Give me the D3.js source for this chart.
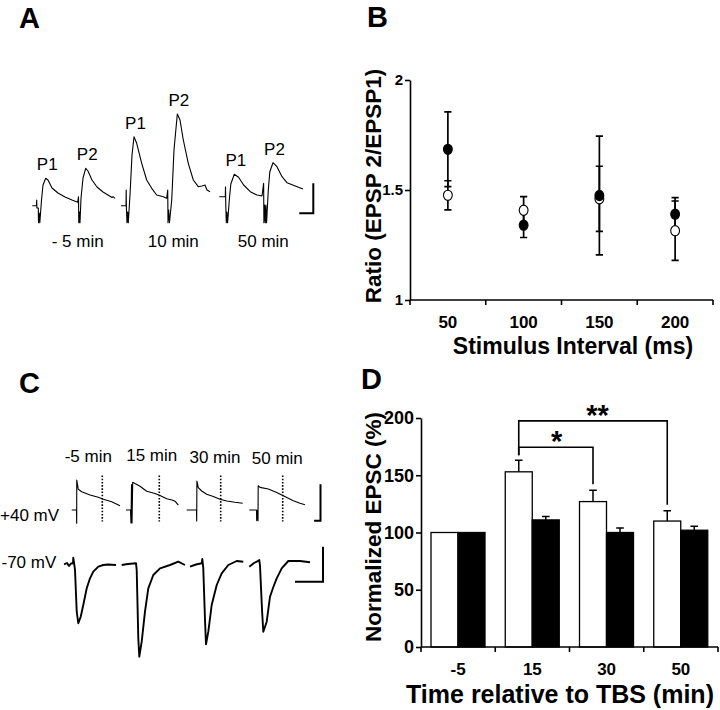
<!DOCTYPE html>
<html><head><meta charset="utf-8">
<script src="https://cdn.jsdelivr.net/npm/d3@7"></script>
<style>body{margin:0;background:#fff}</style>
</head><body>
<svg id="fig" width="720" height="710" xmlns="http://www.w3.org/2000/svg"></svg>
<script>
// ================= DATA =================
// Panel A : field EPSP sweeps, [time ms, mV] relative to sweep start / baseline
const aSweepLabels = ["- 5 min", "10 min", "50 min"];
const aTraceMinus5 = [[0,0],[5.25,0],[5.5,0.57],[5.75,-0.23],[7.5,-0.23],[7.75,-1.7],[8.6,-0.73],[9.4,-1.7],[11.5,0.57],[13.4,2.07],[16.75,2.74],[19.6,2.57],[24.6,1.77],[32.1,1.27],[40.9,0.87],[49.6,0.57],[56.75,0.34],[57.75,0.9],[58.1,-1.7],[58.9,-0.63],[59.6,-1.7],[60.9,0.77],[63.4,2.77],[66.75,3.74],[69.6,3.47],[74.6,2.57],[80.9,1.87],[88.4,1.37],[94.6,1.07],[97,0.95],[99.6,0.82],[101,0.9],[103.4,0.74]];
const aTrace10 = [[0,0],[6.25,0],[6.5,1.57],[6.75,-0.23],[7.5,-1.7],[8.4,-0.63],[9.1,-1.7],[11.25,1.07],[13.75,5.07],[16.25,6.9],[19.6,6.24],[25.9,4.24],[32.1,2.57],[38.4,1.74],[44.6,1.07],[52.9,0.9],[57.1,0.74],[58.4,1.57],[58.75,-1.7],[59.6,-0.43],[60.6,-1.7],[63.4,0.57],[66.25,5.57],[70.4,9.17],[73.75,8.57],[77.9,6.57],[84.1,4.24],[90.4,2.57],[96.6,1.9],[101.25,1.97],[105,2.07],[107.5,1.57],[111.25,1.4]];
const aTrace50 = [[0,0.9],[7.5,0.9],[7.75,1.9],[8.1,0.07],[8.75,-1.7],[9.5,-0.63],[10.4,-1.7],[12.5,0.57],[14.4,2.17],[18.75,3.14],[24.1,2.84],[30.4,2.07],[38.75,1.4],[47.1,1.07],[53.4,0.97],[55.4,2.24],[55.75,-1.7],[56.6,0.07],[57.5,-1.7],[58.25,0.07],[59.1,-1.7],[61.25,1.57],[63.1,3.37],[67.1,4.3],[72.1,3.9],[78.4,2.9],[84.6,2.3],[95,1.97],[104.6,1.67]];
const aPeakLabels = ["P1", "P2"];
const aScaleBar = {ms: 17.5, mV: 3};

// Panel B : paired-pulse ratio
const bIntervals = [50, 100, 150, 200];
const bFilledMean = [1.685, 1.34, 1.475, 1.39];
const bFilledErr  = [0.17, 0.056, 0.27, 0.075];
const bOpenMean   = [1.476, 1.408, 1.46, 1.315];
const bOpenErr    = [0.066, 0.062, 0.148, 0.135];
const bYTicks = [1, 1.5, 2];
const bXTitle = "Stimulus Interval (ms)";
const bYTitle = "Ratio (EPSP 2/EPSP1)";

// Panel C : EPSC sweeps, [time ms, pA]
const cSweepLabels = ["-5 min", "15 min", "30 min", "50 min"];
const cHoldLabels = ["+40 mV", "-70 mV"];
const cPos40Minus5 = [[0,0],[6,0],[6.25,-133],[6.3,300],[8.25,207],[12.5,183],[22.9,150],[33.25,127],[39.5,107],[50,83],[60.4,43]];
const cPos40At15   = [[0,0],[5.6,0],[6.25,-130],[6.9,255],[7.5,-130],[8.4,278],[11.25,265],[17.5,238],[25.9,188],[36.25,165],[42.5,145],[50.9,112],[57.5,100],[61.25,88],[65.4,48]];
const cPos40At30   = [[0,0],[12.25,0],[12.5,-110],[12.75,290],[14.5,224],[18.75,190],[25,157],[33.25,134],[41.6,107],[50,90],[60.4,77],[70,67]];
const cPos40At50   = [[0,0],[9,0],[9.25,-107],[10.6,3],[10.9,-107],[11.1,243],[13.4,226],[23.75,210],[34.25,176],[42.5,143],[55,93],[63.4,68],[69.6,53]];
const cNeg70Minus5 = [[0,7],[3.75,20],[6.25,-10],[8.75,15],[11.25,17],[11.6,73],[13.1,-10],[13.75,-50],[15.9,-467],[17.9,-583],[20.9,-517],[24.1,-400],[28.4,-233],[32.5,-133],[36.6,-67],[42.9,-17],[49.1,0],[55,5],[65,0]];
const cNeg70At15   = [[0,0],[7.9,10],[17.9,17],[18.75,-50],[20.75,-733],[22,-917],[25,-767],[29.1,-467],[33.25,-233],[39.5,-100],[47.9,-33],[60.4,0],[70.75,33],[79.1,0]];
const cNeg70At30   = [[0,-17],[7.5,5],[14.6,17],[15.4,60],[16.6,-30],[18.75,-550],[20,-793],[22.9,-667],[27.1,-400],[33.4,-200],[39.6,-83],[47.9,0],[58.4,40],[66.6,33]];
const cNeg70At50   = [[0,-17],[5.9,20],[9.25,33],[12.5,50],[13.4,-10],[15.9,-450],[17.5,-667],[21.75,-567],[25.9,-317],[29.6,-230],[34.25,-133],[40.5,-33],[48.75,40],[63.4,40],[75.9,27]];
const cDottedTimes = [38.25, 41.6, 42.5, 41.75];
const cScaleBarPos = {ms: 8, pA: 365};
const cScaleBarNeg = {ms: 35, pA: 350};

// Panel D : normalized EPSC
const dTimes = ["-5", "15", "30", "50"];
const dWhiteMean = [100, 153, 127, 110];
const dWhiteErr  = [0, 10, 10, 9];
const dBlackMean = [100, 111, 100, 102];
const dBlackErr  = [0, 3, 4, 3.5];
const dYTicks = [0, 50, 100, 150, 200];
const dComparisons = [{from: "15", to: "30", label: "*", level: 174.5}, {from: "15", to: "50", label: "**", level: 197.5}];
const dXTitle = "Time relative to TBS (min)";
const dYTitle = "Normalized EPSC (%)";

// ================= DRAWING =================
const svg = d3.select("#fig");
svg.append("rect").attr("width", 720).attr("height", 710).attr("fill", "#fff");
const REG = "'Liberation Sans', Arial, Helvetica, sans-serif";
const NAR = "'Liberation Sans Narrow', 'Arial Narrow', 'Liberation Sans', Arial, sans-serif";

// panel letters
[["A", 19, 27.5], ["B", 367, 27], ["C", 19, 393], ["D", 361, 388.5]].forEach(([t, x, y]) => {
  svg.append("text").attr("x", x).attr("y", y).text(t)
    .attr("font-family", REG).attr("font-weight", "bold").attr("font-size", 29);
});

function drawTrace(g, data, x0, xs, ys, sw) {
  g.append("path").datum(data)
    .attr("d", d3.line().x(d => x0 + xs(d[0])).y(d => ys(d[1])))
    .attr("fill", "none").attr("stroke", "#000").attr("stroke-width", sw)
    .attr("stroke-linejoin", "round");
}

// ---------- Panel A ----------
{
  const g = svg.append("g");
  const aX = d3.scaleLinear().domain([0, 100]).range([0, 80]);
  const aY = d3.scaleLinear().domain([0, 10]).range([205.7, 105.7]);
  const origins = [32.3, 121, 219.3];
  const traces = [aTraceMinus5, aTrace10, aTrace50];
  traces.forEach((tr, i) => {
    drawTrace(g, tr, origins[i], aX, aY, 1.1);
    const first = tr.filter(d => d[0] < 55), second = tr.filter(d => d[0] >= 55);
    [first, second].forEach((part, k) => {
      const pk = part.reduce((a, b) => b[1] > a[1] ? b : a);
      g.append("text").attr("x", origins[i] + aX(pk[0]) + 1.5).attr("y", aY(pk[1]) - 8)
        .attr("text-anchor", "middle").attr("font-family", REG).attr("font-size", 17).text(aPeakLabels[k]);
    });
    g.append("text").attr("x", [77.7, 173.3, 263.3][i]).attr("y", 246.5)
      .attr("text-anchor", "middle").attr("font-family", REG).attr("font-size", 17).text(aSweepLabels[i]);
  });
  const bx = 313.3, by = 213.3;
  g.append("path").attr("d", `M${bx - aX(aScaleBar.ms)},${by}H${bx}V${by - (aY(0) - aY(aScaleBar.mV))}`)
    .attr("fill", "none").attr("stroke", "#000").attr("stroke-width", 2);
}

// ---------- Panel B ----------
{
  const g = svg.append("g");
  const x = d3.scaleBand().domain(bIntervals).range([410, 713]);
  const y = d3.scaleLinear().domain([1, 2]).range([300, 80]);
  const yAx = g.append("g").attr("transform", "translate(410,0)")
    .call(d3.axisLeft(y).tickValues(bYTicks).tickSize(5).tickSizeOuter(0).tickPadding(2)
      .tickFormat(d => d === 1.5 ? "1.5" : d3.format("d")(d)));
  yAx.selectAll("path,line").attr("stroke-width", 1.6);
  yAx.selectAll("text").attr("font-family", NAR).attr("font-weight", "bold").attr("font-size", 15).attr("fill", "#000");
  g.append("line").attr("x1", 410).attr("x2", 713).attr("y1", 300).attr("y2", 300).attr("stroke", "#000").attr("stroke-width", 1.6);
  const edges = bIntervals.map(d => x(d)).concat([x.range()[1]]);
  edges.forEach(e => g.append("line").attr("x1", e).attr("x2", e).attr("y1", 300).attr("y2", 305).attr("stroke", "#000").attr("stroke-width", 1.6));
  bIntervals.forEach(d => g.append("text").attr("x", x(d) + x.bandwidth() / 2).attr("y", 328)
    .attr("text-anchor", "middle").attr("font-family", NAR).attr("font-weight", "bold").attr("font-size", 17).text(d));
  g.append("text").attr("x", 573).attr("y", 353.5).attr("text-anchor", "middle")
    .attr("font-family", NAR).attr("font-weight", "bold").attr("font-size", 23).text(bXTitle);
  g.append("text").attr("transform", "translate(380.5,186) rotate(-90)").attr("text-anchor", "middle")
    .attr("font-family", NAR).attr("font-weight", "bold").attr("font-size", 22.5).text(bYTitle);
  const cap = 3.6;
  const series = [{m: bOpenMean, e: bOpenErr, fill: "#fff"}, {m: bFilledMean, e: bFilledErr, fill: "#000"}];
  series.forEach(s => {
    bIntervals.forEach((d, i) => {
      const cx = x(d) + x.bandwidth() / 2;
      const y1 = y(s.m[i] + s.e[i]), y2 = y(s.m[i] - s.e[i]);
      g.append("path").attr("d", `M${cx},${y1}V${y2}M${cx - cap},${y1}H${cx + cap}M${cx - cap},${y2}H${cx + cap}`)
        .attr("stroke", "#000").attr("stroke-width", 1.7).attr("fill", "none");
    });
  });
  series.forEach(s => {
    bIntervals.forEach((d, i) => {
      g.append("ellipse").attr("cx", x(d) + x.bandwidth() / 2).attr("cy", y(s.m[i]))
        .attr("rx", 4.4).attr("ry", 5.1).attr("fill", s.fill).attr("stroke", "#000").attr("stroke-width", 1.1);
    });
  });
}

// ---------- Panel C ----------
{
  const g = svg.append("g");
  const cX = d3.scaleLinear().domain([0, 100]).range([0, 80]);
  const yPos = d3.scaleLinear().domain([0, 100]).range([510, 500]);
  const yNeg = d3.scaleLinear().domain([0, 100]).range([565, 555]);
  const posOrigins = [71.7, 126, 186.7, 249.3];
  const negOrigins = [64, 121.7, 190, 249.3];
  const posTraces = [cPos40Minus5, cPos40At15, cPos40At30, cPos40At50];
  const negTraces = [cNeg70Minus5, cNeg70At15, cNeg70At30, cNeg70At50];
  posTraces.forEach((tr, i) => {
    drawTrace(g, tr, posOrigins[i], cX, yPos, 1.1);
    const dx = posOrigins[i] + cX(cDottedTimes[i]);
    g.append("line").attr("x1", dx).attr("x2", dx).attr("y1", yPos(345)).attr("y2", yPos(-115))
      .attr("stroke", "#000").attr("stroke-width", 1.6).attr("stroke-dasharray", "1.6,1.6");
  });
  negTraces.forEach((tr, i) => drawTrace(g, tr, negOrigins[i], cX, yNeg, 1.9));
  [[88.3, 462], [151.7, 460.5], [215, 462.5], [277.3, 463.5]].forEach(([lx, ly], i) =>
    g.append("text").attr("x", lx).attr("y", ly).attr("text-anchor", "middle")
      .attr("font-family", REG).attr("font-size", 17).text(cSweepLabels[i]));
  g.append("text").attr("x", 0).attr("y", 520.5).attr("font-family", REG).attr("font-size", 17).text(cHoldLabels[0]);
  g.append("text").attr("x", 1.5).attr("y", 567.5).attr("font-family", REG).attr("font-size", 17).text(cHoldLabels[1]);
  const b1x = 320.5, b1y = 520.7;
  g.append("path").attr("d", `M${b1x - cX(cScaleBarPos.ms)},${b1y}H${b1x}V${b1y - (yPos(0) - yPos(cScaleBarPos.pA))}`)
    .attr("fill", "none").attr("stroke", "#000").attr("stroke-width", 2);
  const b2x = 323, b2y = 581.7;
  g.append("path").attr("d", `M${b2x - cX(cScaleBarNeg.ms)},${b2y}H${b2x}V${b2y - (yNeg(0) - yNeg(cScaleBarNeg.pA))}`)
    .attr("fill", "none").attr("stroke", "#000").attr("stroke-width", 2);
}

// ---------- Panel D ----------
{
  const g = svg.append("g");
  const x = d3.scaleBand().domain(dTimes).range([421, 718]);
  const y = d3.scaleLinear().domain([0, 200]).range([647, 418]);
  const bw = 27, off = 10;
  dTimes.forEach((t, i) => {
    const x0 = x(t) + off;
    g.append("rect").attr("x", x0).attr("y", y(dWhiteMean[i])).attr("width", bw).attr("height", y(0) - y(dWhiteMean[i]))
      .attr("fill", "#fff").attr("stroke", "#000").attr("stroke-width", 1.3);
    g.append("rect").attr("x", x0 + bw).attr("y", y(dBlackMean[i])).attr("width", bw).attr("height", y(0) - y(dBlackMean[i]))
      .attr("fill", "#000").attr("stroke", "#000").attr("stroke-width", 1.3);
    [[dWhiteMean[i], dWhiteErr[i], x0 + bw / 2], [dBlackMean[i], dBlackErr[i], x0 + bw * 1.5]].forEach(([m, e, cx]) => {
      if (e > 0) {
        g.append("path").attr("d", `M${cx},${y(m)}V${y(m + e)}M${cx - 3.8},${y(m + e)}H${cx + 3.8}`)
          .attr("stroke", "#000").attr("stroke-width", 1.5).attr("fill", "none");
      }
    });
  });
  const yAx = g.append("g").attr("transform", "translate(421,0)")
    .call(d3.axisLeft(y).tickValues(dYTicks).tickSize(5).tickSizeOuter(0).tickPadding(2));
  yAx.selectAll("path,line").attr("stroke-width", 1.6);
  yAx.selectAll("text").attr("font-family", NAR).attr("font-weight", "bold").attr("font-size", 18).attr("fill", "#000");
  g.append("line").attr("x1", 421).attr("x2", 718).attr("y1", 647).attr("y2", 647).attr("stroke", "#000").attr("stroke-width", 1.6);
  dTimes.map(d => x(d)).concat([x.range()[1]]).forEach(e =>
    g.append("line").attr("x1", e).attr("x2", e).attr("y1", 647).attr("y2", 652).attr("stroke", "#000").attr("stroke-width", 1.6));
  dTimes.forEach(d => g.append("text").attr("x", x(d) + x.bandwidth() / 2).attr("y", 675)
    .attr("text-anchor", "middle").attr("font-family", NAR).attr("font-weight", "bold").attr("font-size", 17).text(d));
  g.append("text").attr("x", 560).attr("y", 703).attr("text-anchor", "middle")
    .attr("font-family", NAR).attr("font-weight", "bold").attr("font-size", 25).text(dXTitle);
  g.append("text").attr("transform", "translate(381,527) rotate(-90)").attr("text-anchor", "middle")
    .attr("font-family", NAR).attr("font-weight", "bold").attr("font-size", 22.5).text(dYTitle);
  dComparisons.forEach(c => {
    const i1 = dTimes.indexOf(c.from), i2 = dTimes.indexOf(c.to);
    const x1 = x(c.from) + off + bw / 2, x2 = x(c.to) + off + bw / 2;
    const yl = y(c.level);
    const yb1 = y(dWhiteMean[i1] + dWhiteErr[i1]) - 5, yb2 = y(dWhiteMean[i2] + dWhiteErr[i2]) - 6;
    g.append("path").attr("d", `M${x1},${yb1}V${yl}H${x2}V${yb2}`)
      .attr("fill", "none").attr("stroke", "#000").attr("stroke-width", 1.6);
    g.append("text").attr("x", x1 + (x2 - x1) * (c.label === "*" ? 0.51 : 0.53)).attr("y", yl + 4)
      .attr("text-anchor", "middle").attr("font-family", REG).attr("font-weight", "bold").attr("font-size", 29).text(c.label);
  });
}
</script>
</body></html>
